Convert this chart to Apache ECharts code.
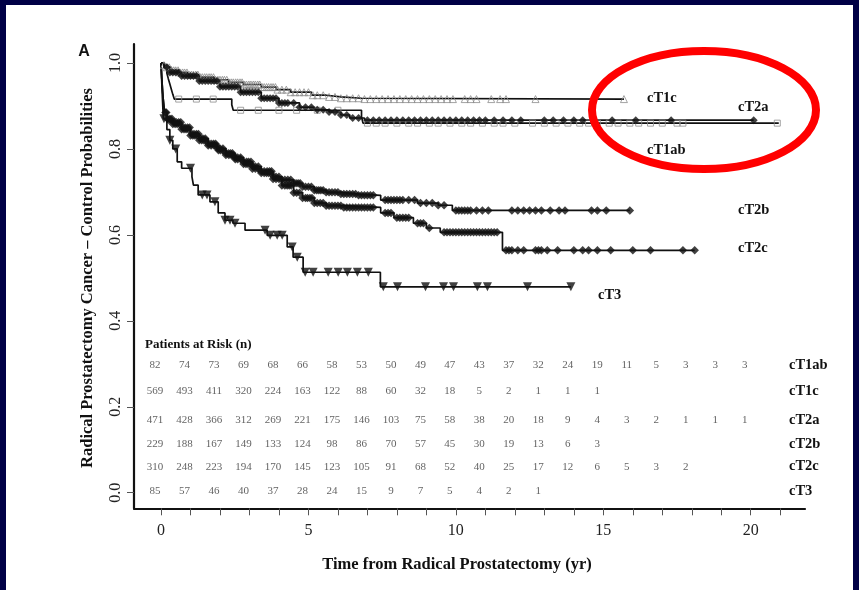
<!DOCTYPE html>
<html><head><meta charset="utf-8">
<script src="https://cdn.jsdelivr.net/npm/echarts@6/dist/echarts.min.js"></script>
<style>
html,body{margin:0;padding:0;background:#000046;width:859px;height:590px;overflow:hidden}
#paper{position:absolute;left:6px;top:5px;width:847px;height:585px;background:#fff}
#chart{position:absolute;left:0;top:0;width:859px;height:590px}
</style></head><body><div id="paper"></div><div id="chart"></div>
<script>
// ---------- data ----------
const xTicks = [0,1,2,3,4,5,6,7,8,9,10,11,12,13,14,15,16,17,18,19,20,21];
const xLabels = [0,5,10,15,20];
const yLabels = [0,0.2,0.4,0.6,0.8,1.0];
const groups = ['cT1ab','cT1c','cT2a','cT2b','cT2c','cT3'];

const curve_cT1ab = [[0,1],[0.12,0.988],[0.2,0.976],[0.25,0.963],[0.3,0.951],[0.35,0.939],[0.4,0.927],[0.45,0.916],[2.4,0.903],[2.45,0.89],[6.8,0.875],[6.85,0.86],[20.95,0.86]];
const curve_cT1c = [[0,1],[0.1,0.995],[0.2,0.99],[0.35,0.983],[0.6,0.978],[0.9,0.973],[1.3,0.967],[1.8,0.961],[2.3,0.955],[2.8,0.95],[3.4,0.944],[3.9,0.938],[4.4,0.932],[5.1,0.925],[5.6,0.921],[6.1,0.918],[6.8,0.916],[15.7,0.916]];
const curve_cT2a = [[0,1],[0.1,0.99],[0.3,0.978],[0.7,0.97],[1.3,0.958],[2.0,0.945],[2.7,0.932],[3.4,0.918],[4.0,0.907],[4.7,0.897],[5.2,0.891],[5.7,0.886],[6.1,0.879],[6.4,0.872],[6.9,0.867],[20.1,0.867]];
const curve_cT2b = [[0,1],[0.03,0.96],[0.07,0.92],[0.12,0.885],[0.2,0.87],[0.4,0.862],[0.7,0.85],[1.0,0.835],[1.3,0.824],[1.6,0.812],[1.9,0.801],[2.2,0.79],[2.5,0.78],[2.8,0.77],[3.1,0.759],[3.4,0.748],[3.8,0.735],[4.1,0.728],[4.5,0.72],[4.8,0.712],[5.2,0.704],[5.6,0.699],[6.1,0.695],[6.7,0.692],[7.45,0.681],[8.7,0.674],[9.4,0.669],[9.88,0.657],[15.9,0.657]];
const curve_cT2c = [[0,1],[0.03,0.96],[0.07,0.92],[0.12,0.885],[0.2,0.868],[0.4,0.858],[0.7,0.846],[1.0,0.831],[1.3,0.82],[1.6,0.808],[1.9,0.797],[2.2,0.786],[2.5,0.776],[2.8,0.765],[3.1,0.754],[3.4,0.744],[3.8,0.73],[4.1,0.715],[4.5,0.698],[4.8,0.686],[5.2,0.674],[5.6,0.668],[6.2,0.664],[7.45,0.651],[7.9,0.64],[8.56,0.627],[9.0,0.616],[9.47,0.606],[11.58,0.564],[18.1,0.564]];
const curve_cT3 = [[0,1],[0.04,0.93],[0.08,0.87],[0.2,0.845],[0.3,0.82],[0.4,0.8],[0.55,0.77],[0.7,0.755],[1.05,0.735],[1.1,0.716],[1.26,0.693],[1.66,0.677],[1.94,0.651],[2.17,0.634],[2.44,0.627],[2.85,0.611],[3.6,0.599],[4.28,0.572],[4.48,0.548],[4.82,0.513],[7.44,0.479],[13.9,0.479]];

const censor_cT1ab = [0.6,1.2,1.77,2.7,3.3,4.0,4.6,5.3,6.0,7.0,7.3,7.6,8.0,8.4,8.7,9.1,9.4,9.8,10.2,10.5,10.9,11.3,11.6,12.0,12.6,13.0,13.4,13.8,14.2,14.5,14.8,15.2,15.5,15.9,16.2,16.6,17.0,17.5,17.7,20.9];
const censor_cT1c = [0.1,0.2,0.28,0.35,0.43,0.5,0.58,0.65,0.73,0.8,0.88,0.95,1.03,1.1,1.18,1.25,1.33,1.4,1.48,1.55,1.63,1.7,1.78,1.85,1.93,2.0,2.08,2.15,2.23,2.3,2.38,2.45,2.53,2.6,2.68,2.75,2.83,2.9,2.98,3.05,3.13,3.2,3.28,3.35,3.43,3.5,3.58,3.65,3.73,3.8,3.88,3.95,4.1,4.25,4.4,4.55,4.7,4.85,5.0,5.15,5.3,5.5,5.7,5.9,6.1,6.3,6.5,6.7,6.9,7.1,7.3,7.5,7.7,7.9,8.1,8.3,8.5,8.7,8.9,9.1,9.3,9.5,9.7,9.9,10.3,10.5,10.7,11.2,11.5,11.7,12.7,15.7];
const censor_cT2a = [0.2,0.3,0.4,0.5,0.6,0.7,0.8,0.9,1.0,1.1,1.2,1.3,1.4,1.5,1.6,1.7,1.8,1.9,2.0,2.1,2.2,2.3,2.4,2.5,2.6,2.7,2.8,2.9,3.0,3.1,3.2,3.3,3.4,3.5,3.6,3.7,3.8,3.9,4.0,4.1,4.2,4.3,4.5,4.7,4.9,5.1,5.3,5.5,5.7,5.9,6.1,6.3,6.5,6.7,7.0,7.2,7.4,7.6,7.8,8.0,8.2,8.4,8.6,8.8,9.0,9.2,9.4,9.6,9.8,10.0,10.2,10.4,10.6,10.8,11.0,11.3,11.6,11.9,12.2,13.0,13.3,13.65,14.0,14.3,15.3,16.1,17.3,20.1];
const censor_cT2b = [0.15,0.22,0.3,0.37,0.45,0.52,0.6,0.67,0.75,0.82,0.9,0.97,1.05,1.12,1.2,1.27,1.35,1.42,1.5,1.6,1.7,1.78,1.85,1.92,2.0,2.1,2.2,2.28,2.35,2.42,2.5,2.6,2.7,2.8,2.9,2.97,3.05,3.12,3.2,3.3,3.4,3.5,3.6,3.68,3.75,3.82,3.9,4.0,4.1,4.2,4.3,4.4,4.5,4.58,4.65,4.72,4.8,4.9,5.0,5.1,5.2,5.28,5.35,5.42,5.5,5.6,5.7,5.8,5.9,6.0,6.1,6.2,6.3,6.4,6.5,6.6,6.7,6.8,6.9,7.0,7.1,7.2,7.6,7.7,7.8,7.9,8.0,8.1,8.2,8.4,8.6,8.8,9.0,9.2,9.4,9.6,10.0,10.1,10.2,10.3,10.4,10.5,10.7,10.9,11.1,11.9,12.1,12.3,12.5,12.7,12.9,13.2,13.5,13.7,14.6,14.8,15.1,15.9];
const censor_cT2c = [0.18,0.25,0.32,0.4,0.48,0.55,0.62,0.7,0.78,0.85,0.92,1.0,1.08,1.15,1.22,1.3,1.38,1.45,1.52,1.6,1.7,1.8,1.88,1.95,2.02,2.1,2.2,2.3,2.38,2.45,2.52,2.6,2.7,2.8,2.88,2.95,3.02,3.1,3.2,3.3,3.4,3.5,3.58,3.65,3.72,3.8,3.9,4.0,4.1,4.2,4.28,4.35,4.42,4.5,4.6,4.7,4.8,4.9,4.97,5.05,5.12,5.2,5.3,5.4,5.5,5.6,5.7,5.8,5.9,6.0,6.1,6.2,6.3,6.4,6.5,6.6,6.7,6.8,6.9,7.0,7.1,7.2,7.6,7.7,7.8,8.0,8.1,8.2,8.3,8.4,8.7,8.8,8.9,9.1,9.6,9.7,9.8,9.9,10.0,10.1,10.2,10.3,10.4,10.5,10.6,10.7,10.8,10.9,11.0,11.1,11.2,11.3,11.4,11.7,11.8,11.9,12.1,12.3,12.7,12.8,12.9,13.1,13.45,14.0,14.3,14.5,14.8,15.25,16.0,16.6,17.7,18.1];
const censor_cT3 = [0.1,0.3,0.5,1.0,1.4,1.56,1.83,2.17,2.34,2.51,3.53,3.7,3.94,4.11,4.45,4.62,4.89,5.16,5.67,6.01,6.32,6.66,7.03,7.54,8.02,8.97,9.58,9.92,10.73,11.07,12.43,13.9];

const riskYears = [0,1,2,3,4,5,6,7,8,9,10,11,12,13,14,15,16,17,18,19,20];
const risk_cT1ab = [82,74,73,69,68,66,58,53,50,49,47,43,37,32,24,19,11,5,3,3,3];
const risk_cT1c = [569,493,411,320,224,163,122,88,60,32,18,5,2,1,1,1];
const risk_cT2a = [471,428,366,312,269,221,175,146,103,75,58,38,20,18,9,4,3,2,1,1,1];
const risk_cT2b = [229,188,167,149,133,124,98,86,70,57,45,30,19,13,6,3];
const risk_cT2c = [310,248,223,194,170,145,123,105,91,68,52,40,25,17,12,6,5,3,2];
const risk_cT3 = [85,57,46,40,37,28,24,15,9,7,5,4,2,1];

const curves = {cT1ab:curve_cT1ab,cT1c:curve_cT1c,cT2a:curve_cT2a,cT2b:curve_cT2b,cT2c:curve_cT2c,cT3:curve_cT3};
const censors = {cT1ab:censor_cT1ab,cT1c:censor_cT1c,cT2a:censor_cT2a,cT2b:censor_cT2b,cT2c:censor_cT2c,cT3:censor_cT3};
const risks = {cT1ab:risk_cT1ab,cT1c:risk_cT1c,cT2a:risk_cT2a,cT2b:risk_cT2b,cT2c:risk_cT2c,cT3:risk_cT3};

// ---------- layout / style ----------
const SERIF = '"Liberation Serif","Times New Roman",serif';
const G = {left:134, top:44, right:805, bottom:508.3};
const X_MIN = -0.9156, X_MAX = 21.84, Y_MIN = -0.0363, Y_MAX = 1.0442;
function pyToVal(py){ return Y_MIN + (G.bottom - py) / (G.bottom - G.top) * (Y_MAX - Y_MIN); }
const rowPixelY = {cT1ab:365.5, cT1c:391.5, cT2a:420.5, cT2b:444, cT2c:466.7, cT3:491};

const markStyle = {
  cT1ab:{symbol:'rect', size:6, rotate:0, fill:'rgba(0,0,0,0)', stroke:'#8c8c8c', bw:1},
  cT1c:{symbol:'triangle', size:7, rotate:0, fill:'rgba(0,0,0,0)', stroke:'#8c8c8c', bw:1},
  cT2a:{symbol:'diamond', size:8, rotate:0, fill:'#111', stroke:'#111', bw:0},
  cT2b:{symbol:'diamond', size:8.5, rotate:0, fill:'#111', stroke:'#111', bw:0},
  cT2c:{symbol:'diamond', size:8.5, rotate:0, fill:'#111', stroke:'#111', bw:0},
  cT3:{symbol:'triangle', size:9, rotate:180, fill:'#111', stroke:'#111', bw:0}
};

function valueAt(curve, t){
  let v = curve[0][1];
  for (const p of curve){ if (p[0] <= t) v = p[1]; else break; }
  return v;
}

const series = [];
groups.forEach(g => {
  series.push({
    type:'line', step:'end', data:curves[g], showSymbol:false, silent:true,
    lineStyle:{color:'#111', width:1.7}, z:3
  });
  const s = markStyle[g];
  series.push({
    type:'scatter', silent:true, z:4,
    data:censors[g].map(t => [t, valueAt(curves[g], t)]),
    symbol:s.symbol, symbolSize:s.size, symbolRotate:s.rotate,
    itemStyle:{color:s.fill, borderColor:s.stroke, borderWidth:s.bw}
  });
  series.push({
    type:'scatter', silent:true, z:5, symbolSize:1,
    itemStyle:{color:'rgba(0,0,0,0)'},
    data:risks[g].map((n,i) => [riskYears[i], pyToVal(rowPixelY[g]), n]),
    label:{show:true, position:'inside', offset:[-6,0], formatter:p => p.value[2],
      fontFamily:SERIF, fontSize:11, color:'#3a3a3a'}
  });
});

const boldSerif = (sz) => 'bold ' + sz + 'px ' + SERIF;
function txt(text, x, y, font, align, rot){
  return {type:'text', x:x, y:y, rotation:rot||0, z:50, silent:true,
    style:{text:text, font:font, fill:'#111', align:align||'left', verticalAlign:'middle'}};
}
const graphics = [
  txt('A', 84, 52, 'bold 16px "Liberation Sans",Arial,sans-serif', 'center'),
  txt('Radical Prostatectomy Cancer \u2013 Control Probabilities', 88, 278, boldSerif(16.5), 'center', Math.PI/2),
  txt('Time from Radical Prostatectomy (yr)', 457, 565, boldSerif(16.5), 'center'),
  txt('Patients at Risk (n)', 145, 345, boldSerif(13), 'left'),
  txt('cT1c', 647, 98, boldSerif(14.5)),
  txt('cT2a', 738, 107, boldSerif(14.5)),
  txt('cT1ab', 647, 150, boldSerif(14.5)),
  txt('cT2b', 738, 210, boldSerif(14.5)),
  txt('cT2c', 738, 248, boldSerif(14.5)),
  txt('cT3', 598, 295, boldSerif(14.5)),
  {type:'ellipse', z:100, silent:true, shape:{cx:704, cy:110, rx:112, ry:59},
   style:{fill:'none', stroke:'#ff0000', lineWidth:8}}
];
groups.forEach(g => graphics.push(txt(g, 789, rowPixelY[g], boldSerif(14.5))));

const chart = echarts.init(document.getElementById('chart'));
chart.setOption({
  animation:false,
  backgroundColor:'transparent',
  grid:{left:G.left, top:G.top, width:G.right-G.left, height:G.bottom-G.top},
  xAxis:{type:'value', min:X_MIN, max:X_MAX, splitLine:{show:false},
    axisLine:{show:true, onZero:false, lineStyle:{color:'#111', width:2.2}},
    axisTick:{show:true, customValues:xTicks, length:7, lineStyle:{color:'#555', width:1}},
    axisLabel:{customValues:xLabels, fontFamily:SERIF, fontSize:16, color:'#222', margin:14}},
  yAxis:{type:'value', min:Y_MIN, max:Y_MAX, splitLine:{show:false},
    axisLine:{show:true, onZero:false, lineStyle:{color:'#111', width:2.2}},
    axisTick:{show:true, customValues:yLabels, length:7, lineStyle:{color:'#555', width:1}},
    axisLabel:{customValues:yLabels, rotate:90, formatter:v => v.toFixed(1),
      fontFamily:SERIF, fontSize:16, color:'#222', margin:10}},
  graphic:graphics,
  series:series
});
</script></body></html>
